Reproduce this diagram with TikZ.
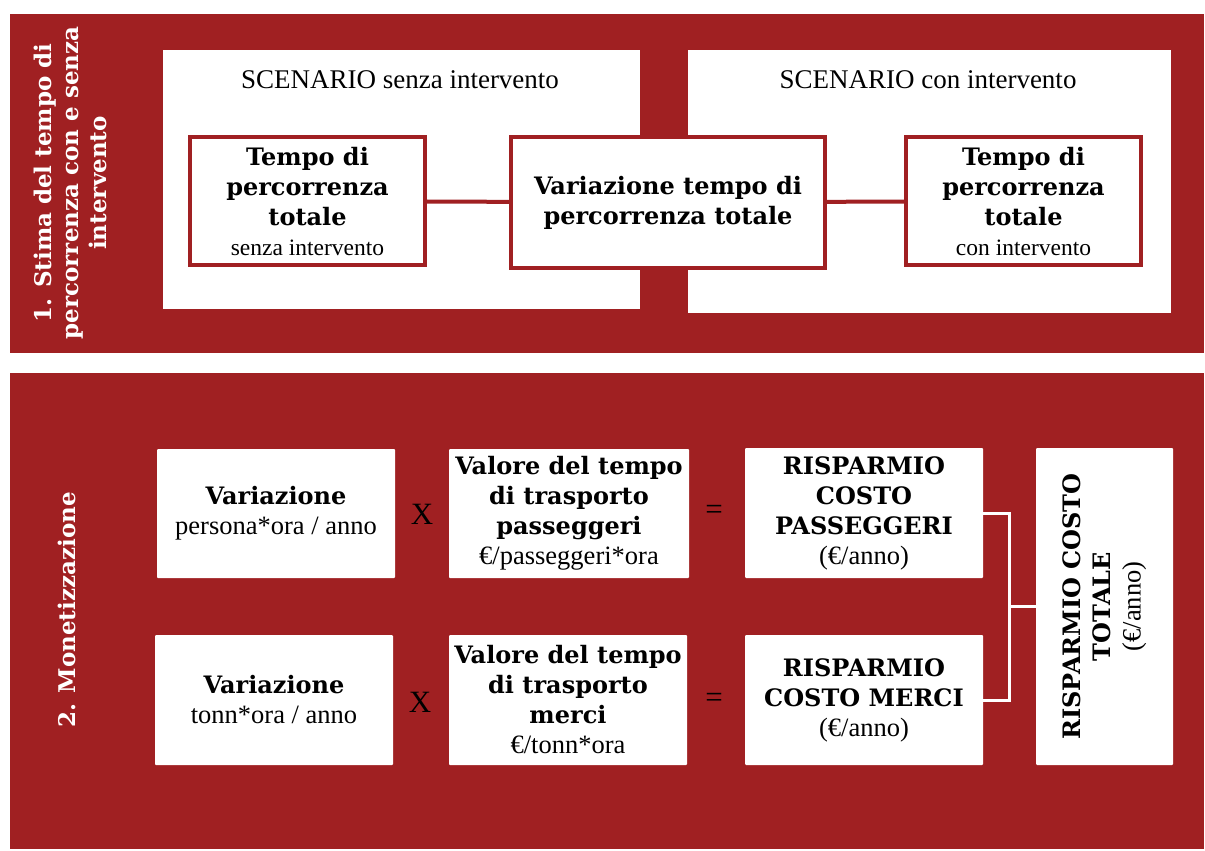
\documentclass[tikz,border=0pt]{standalone}
\usepackage{fontspec}
\setmainfont{Liberation Serif}
\newfontfamily\headserif{DejaVu Serif}
\usepackage{tikz}
\definecolor{pmred}{RGB}{160,32,34}
\tikzset{
  panel/.style={fill=pmred,draw=none},
  scenbox/.style={fill=white,draw=none},
  scentxt/.style={font={\fontsize{27}{30}\selectfont}},
  timebox/.style={rectangle,draw=pmred,line width=4pt,fill=white,align=center,inner sep=2pt,
    font={\headserif\bfseries\fontsize{24}{30}\selectfont}},
  monbox/.style={rectangle,fill=white,rounded corners=1pt,align=center,inner sep=2pt,
    font={\headserif\bfseries\fontsize{24}{30}\selectfont}},
  sidelabel/.style={rotate=90,align=center,text=white,
    font={\headserif\bfseries\fontsize{23}{27.5}\selectfont}},
  optxt/.style={font={\fontsize{31}{31}\selectfont}},
  redline/.style={draw=pmred,line width=4pt},
  joinline/.style={draw=white,line width=3pt}
}
\newcommand{\subln}[1]{{\normalfont\fontsize{23.5}{28}\selectfont #1}}
\newcommand{\monln}[1]{{\normalfont\fontsize{26.5}{30}\selectfont #1}}

\begin{document}
\begin{tikzpicture}[x=1pt,y=-1pt]
  \path[use as bounding box,fill=white] (0,0) rectangle (1205,851);
  % fase 1
  \path[panel] (10,14) rectangle (1204,353);
  \path[scenbox] (163,50) rectangle (640,309);
  \path[scenbox] (688,50) rectangle (1171,313);
  \node[sidelabel] (lblstima) at (70,183) {1. Stima del tempo di\\percorrenza con e senza\\intervento};
  \node[scentxt] (scensenza) at (400,80) {SCENARIO senza intervento};
  \node[scentxt] (scencon) at (928,80) {SCENARIO con intervento};
  \node[timebox,minimum width=235,minimum height=128] (tsenza) at (307.5,201)
    {Tempo di\\percorrenza\\totale\\\subln{senza intervento}};
  \node[timebox,minimum width=314,minimum height=131] (tvar) at (668,202.5)
    {Variazione tempo di\\percorrenza totale};
  \node[timebox,minimum width=235,minimum height=128] (tcon) at (1023.5,201)
    {Tempo di\\percorrenza\\totale\\\subln{con intervento}};
  \draw[redline] (tsenza) -- (tvar);
  \draw[redline] (tvar) -- (tcon);
  % fase 2
  \path[panel] (10,373) rectangle (1204,849);
  \node[sidelabel] (lblmon) at (67,610) {2. Monetizzazione};
  \node[monbox,minimum width=238,minimum height=129] (vpass) at (276,513.5)
    {Variazione\\\monln{persona*ora / anno}};
  \node[optxt] (xpass) at (422,514) {X};
  \node[monbox,minimum width=240,minimum height=129] (valpass) at (569,513.5)
    {Valore del tempo\\di trasporto\\passeggeri\\\monln{€/passeggeri*ora}};
  \node[optxt] (eqpass) at (714,512) {=};
  \node[monbox,minimum width=238,minimum height=130] (rpass) at (864,513)
    {RISPARMIO\\COSTO\\PASSEGGERI\\\monln{(€/anno)}};
  \node[monbox,minimum width=238,minimum height=130] (vmerci) at (274,700)
    {Variazione\\\monln{tonn*ora / anno}};
  \node[optxt] (xmerci) at (420,702) {X};
  \node[monbox,minimum width=238,minimum height=130] (valmerci) at (568,700)
    {Valore del tempo\\di trasporto\\merci\\\monln{€/tonn*ora}};
  \node[optxt] (eqmerci) at (714,700) {=};
  \node[monbox,minimum width=238,minimum height=130] (rmerci) at (864,700)
    {RISPARMIO\\COSTO MERCI\\\monln{(€/anno)}};
  \node[monbox,rotate=90,minimum width=317,minimum height=137] (rtot) at (1104.5,606.5)
    {RISPARMIO COSTO\\TOTALE\\\monln{(€/anno)}};
  \coordinate (jn) at (1009,606.5);
  \draw[joinline] (rpass.east) -| (jn) |- (rmerci.east);
  \draw[joinline] (jn) -- (rtot.north);
\end{tikzpicture}
\end{document}
